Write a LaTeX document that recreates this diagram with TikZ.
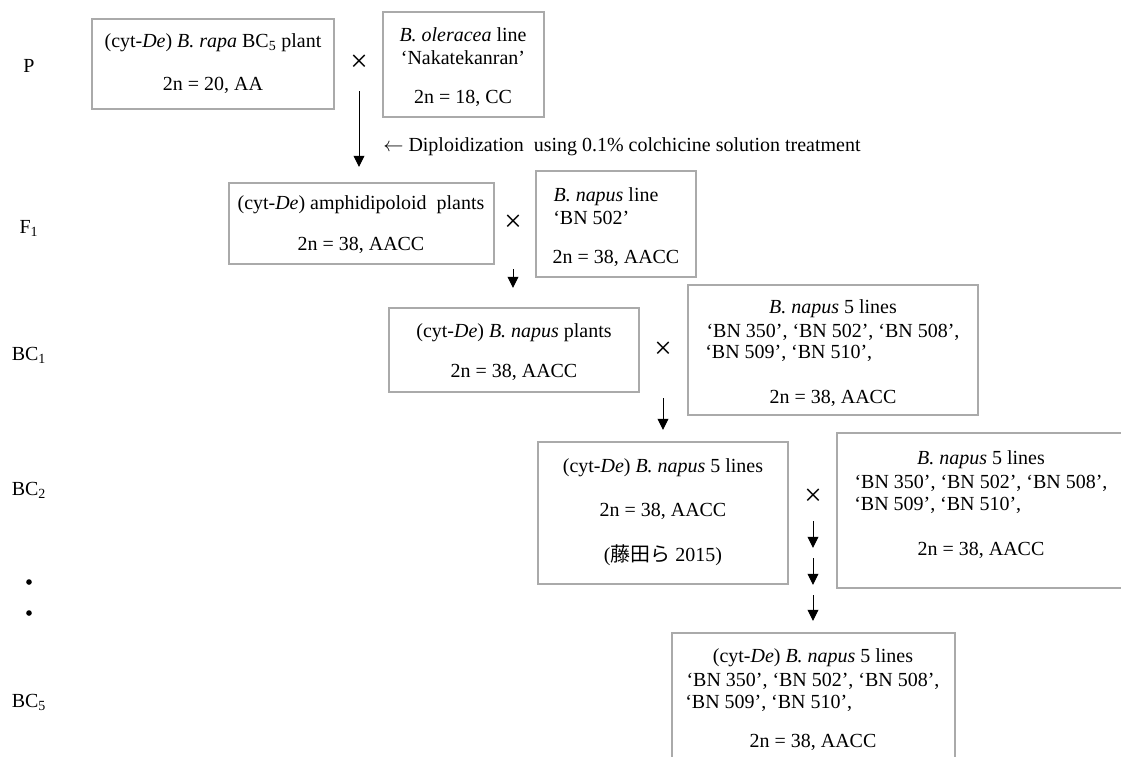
\documentclass[tikz,border=0pt]{standalone}
\usepackage{fontspec}
\setmainfont{Liberation Serif}
\newfontfamily\jpfont{Noto Sans CJK JP}
\usetikzlibrary{arrows.meta,fit}
\definecolor{boxgray}{RGB}{170,170,170}

\begin{document}
\begin{tikzpicture}[x=0.025cm, y=-0.025cm, % 1 unit = 1 px of the 1121x757 frame
  font=\fontsize{14.2}{17}\selectfont,
  every node/.style={inner sep=0pt},
  gbox/.style={draw=boxgray, line width=0.9pt},
  crossmark/.style={font=\fontsize{22}{22}\selectfont},
  dn/.style={-{Triangle[length=0.28cm,width=0.27cm]}, line width=0.7pt}]
  \useasboundingbox (0,0) rectangle (1121,757);
  \clip (0,0) rectangle (1121,757);

  % Generations
  \foreach \n/\y/\t in {gP/66/P, gF/228/{F\textsubscript{1}}, gBa/355/{BC\textsubscript{1}},
                        gBb/490/{BC\textsubscript{2}}, gBe/702/{BC\textsubscript{5}}}
    \node (\n) at (29,\y) {\t};
  \foreach \n/\y in {dA/582, dB/613}
    \node[circle, fill, minimum size=4pt] (\n) at (29,\y) {};

  % Boxes
  \node[gbox, fit={(92,19) (334,109)}] (bP) {};
  \node[gbox, fit={(383,12) (544,117)}] (bPo) {};
  \node[gbox, fit={(229,183) (494,264)}] (bF) {};
  \node[gbox, fit={(536,171) (696,277)}] (bFo) {};
  \node[gbox, fit={(389,308) (639,392)}] (bBa) {};
  \node[gbox, fit={(688,285) (978,415)}] (bBao) {};
  \node[gbox, fit={(538,442) (788,584)}] (bBb) {};
  \node[gbox, fit={(837,433) (1126,588)}] (bBbo) {};
  \node[gbox, fit={(672,633) (955,780)}] (bBe) {};

  % P
  \node (tP1) at (213,43) {(cyt-\textit{De}) \textit{B. rapa} BC\textsubscript{5} plant};
  \node (tP2) at (213,85) {2n = 20, AA};
  \node (tPo1) at (463,35) {\textit{B. oleracea} line};
  \node (tPo2) at (463,58) {‘Nakatekanran’};
  \node (tPo3) at (463,98) {2n = 18, CC};
  \node[crossmark] (xP) at (359,63) {×};
  \node[anchor=west] (tDip) at (383,147) {$\leftarrow$ Diploidization\ \ using 0.1\% colchicine solution treatment};

  % F1
  \node (tF1) at (361,205) {(cyt-\textit{De}) amphidipoloid\ \ plants};
  \node (tF2) at (361,245) {2n = 38, AACC};
  \node (tFo1) at (606,197) {\textit{B. napus} line};
  \node[anchor=west] (tFo2) at (553,218) {‘BN 502’};
  \node (tFo3) at (616,258) {2n = 38, AACC};
  \node[crossmark] (xF) at (513,223) {×};

  % BC1
  \node (tBa1) at (514,333) {(cyt-\textit{De}) \textit{B. napus} plants};
  \node (tBa2) at (514,372) {2n = 38, AACC};
  \node (tBao1) at (833,309) {\textit{B. napus} 5 lines};
  \node (tBao2) at (833,332) {‘BN 350’, ‘BN 502’, ‘BN 508’,};
  \node[anchor=west] (tBao3) at (705,353) {‘BN 509’, ‘BN 510’,};
  \node (tBao4) at (833,398) {2n = 38, AACC};
  \node[crossmark] (xBa) at (663,350) {×};

  % BC2
  \node (tBb1) at (663,468) {(cyt-\textit{De}) \textit{B. napus} 5 lines};
  \node (tBb2) at (663,511) {2n = 38, AACC};
  \node (tBb3) at (663,555) {({\jpfont 藤田ら} 2015)};
  \node (tBbo1) at (981,460) {\textit{B. napus} 5 lines};
  \node (tBbo2) at (981,483) {‘BN 350’, ‘BN 502’, ‘BN 508’,};
  \node[anchor=west] (tBbo3) at (854,505) {‘BN 509’, ‘BN 510’,};
  \node (tBbo4) at (981,550) {2n = 38, AACC};
  \node[crossmark] (xBb) at (813,497) {×};

  % BC5
  \node (tBe1) at (813,658) {(cyt-\textit{De}) \textit{B. napus} 5 lines};
  \node (tBe2) at (813,681) {‘BN 350’, ‘BN 502’, ‘BN 508’,};
  \node[anchor=west] (tBe3) at (685,703) {‘BN 509’, ‘BN 510’,};
  \node (tBe4) at (813,742) {2n = 38, AACC};

  % Arrows
  \foreach \a/\x/\ya/\yb in {aP/359/91/167, aF/513/269/288, aBa/663/398/430,
                             aBb/813/521/548, aBc/813/558/585, aBd/813/595/621} {
    \coordinate (\a s) at (\x,\ya);
    \coordinate (\a e) at (\x,\yb);
    \draw[dn] (\a s) -- (\a e);
  }
\end{tikzpicture}
\end{document}
